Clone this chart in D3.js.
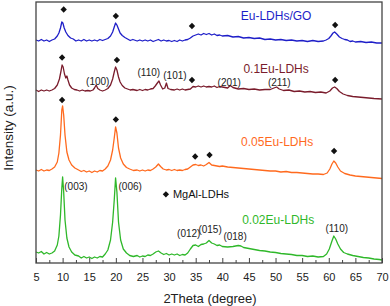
<!DOCTYPE html>
<html><head><meta charset="utf-8">
<script src="https://cdn.jsdelivr.net/npm/d3@7"></script>
<style>html,body{margin:0;padding:0;background:#fff;}svg{display:block;font-family:"Liberation Sans",Arial,sans-serif;}</style>
</head><body><svg id="c" width="390" height="306"></svg>
<script>
// ---- data: [2Theta, intensity (a.u., stacked offsets)] ----
const seriesNames = ["Eu-LDHs/GO", "0.1Eu-LDHs", "0.05Eu-LDHs", "0.02Eu-LDHs"];
const seriesColors = ["#1e1ec8", "#7a1c2c", "#ff6a1e", "#2fb82a"];

const euGO = [[5,223],[5.5,222],[6,223.5],[6.5,222],[7,223],[7.5,221.5],[8,223],[8.5,224],[9,227],[9.3,230],[9.6,235],[9.85,241],[10.05,240],[10.3,235],[10.6,231],[11,227.5],[11.5,225],[12,224],[12.5,222],[13,223],[13.5,222],[14,223.5],[14.5,222],[15,223],[15.5,222],[16,223],[16.5,222],[17,223.5],[17.5,222.5],[18,223.5],[18.5,224.5],[19,227],[19.4,231],[19.7,236],[19.95,240],[20.2,238],[20.5,234],[20.8,230],[21.2,227.5],[21.7,225.5],[22.2,224],[22.7,222.5],[23.2,223.5],[24,222],[24.5,223],[25,222],[25.5,223],[26,222],[26.5,223],[27,221.5],[27.5,222.5],[28,223.5],[28.5,222],[29,223],[29.5,222],[30,222.5],[30.5,221.5],[31,222.5],[31.5,221.5],[32,223],[32.5,222],[33,223],[33.5,223.5],[34,225],[34.5,227],[35,228],[35.5,229],[36,228],[36.5,229.5],[37,228.5],[37.5,229.5],[38,228],[38.5,229],[39,227.5],[39.5,228],[40,227],[41,227.5],[42,226],[43,226.5],[44,225],[45,225.5],[46,224.5],[47,225],[48,223.5],[49,224],[50,223],[51,223.5],[52,222.5],[53,223],[54,222],[55,222.5],[56,221.5],[57,222.5],[58,221.5],[59,222],[59.5,223],[60,224.5],[60.4,227],[60.8,230],[61.1,231],[61.5,229],[62,226],[62.5,224.5],[63,223.5],[63.5,223],[64,221.5],[64.5,222],[65,221],[66,221.5],[67,220.5],[68,221],[69,220],[70,220]];

const eu01 = [[5,173],[5.5,171.5],[6,173],[6.5,172],[7,173],[7.5,172],[8,173],[8.5,174.5],[9,178],[9.4,184],[9.7,192],[9.9,198],[10.1,196],[10.35,189],[10.6,185],[10.8,187],[11,183],[11.3,178],[11.7,175],[12.2,173.5],[12.7,173],[13.2,172],[13.7,173],[14.2,172],[14.7,172.5],[15.2,172],[15.7,173],[16,175],[16.3,178],[16.6,174.5],[17,173],[17.5,172],[18,173],[18.5,174.5],[19,178],[19.4,184],[19.7,191],[19.95,196],[20.2,193],[20.5,186],[20.8,181],[21.2,177.5],[21.7,175],[22.2,174],[22.7,173],[23.2,173.5],[24,172.5],[24.5,173.5],[25,172.5],[25.5,173.5],[26,173],[26.5,174],[27,174.5],[27.4,177],[27.8,180],[28.1,182],[28.4,178],[28.8,174],[29.2,175],[29.5,180],[29.8,174.5],[30.3,173.5],[31,173],[31.5,174],[32,173],[32.5,174],[33,173],[33.5,173.5],[34,174],[34.5,176.5],[35,176],[35.5,177],[36,176],[36.5,177],[37,176],[37.5,176.5],[38,176],[38.5,177],[39,175.5],[39.5,176.5],[40,176],[41,175],[41.5,177.5],[42,175.5],[43,174],[44,174.5],[45,173.5],[46,174],[47,173],[48,173.5],[49,173.5],[49.7,175],[50.2,176],[50.7,174],[51.5,172.5],[52.5,173],[53.5,171.5],[54.5,172],[55.5,171],[56.5,171.5],[57.5,170.5],[58.5,171],[59.5,170],[60.2,172],[60.7,175],[61.1,176],[61.5,174.5],[62,171.5],[62.7,169],[63.5,167.5],[64.5,166.5],[65.5,166],[66.5,165.5],[67.5,165],[68.5,164.5],[70,164]];

const eu005 = [[5,93],[5.5,92],[6,93.5],[6.5,92],[7,93],[7.5,92.5],[8,94],[8.5,96],[9,101],[9.3,110],[9.6,128],[9.85,153],[10,157],[10.2,148],[10.45,128],[10.8,111],[11.2,103],[11.7,98],[12.3,95],[13,93],[13.5,91.5],[14,92.5],[14.5,91],[15,92],[15.5,90.5],[16,92],[16.5,91],[17,92.5],[17.5,92],[18,94],[18.5,97],[19,103],[19.4,113],[19.7,125],[19.95,136],[20.2,130],[20.5,115],[20.9,105],[21.4,99],[22,95.5],[22.6,94],[23.3,92.5],[24,93],[24.5,92],[25,93],[25.5,92],[26,93],[26.5,92.5],[27,94],[27.5,96],[28,99],[28.4,96.5],[28.9,94],[29.5,93],[30,93.5],[30.5,92.5],[31,93.5],[31.5,92.5],[32,93],[32.5,92.5],[33,93.5],[33.5,94],[34,96],[34.5,98],[35,98.5],[35.5,97.5],[36,98],[36.5,97],[37,98.5],[37.5,100.5],[38,98],[38.5,97.5],[39,97],[39.5,96.5],[40,97],[41,96],[42,95.5],[43,95],[44,94.5],[45,94],[46,93.5],[47,93],[48,92.5],[49,92],[50,92],[51,91],[52,91.5],[53,90.5],[54,90.5],[55,90],[56,89.5],[57,89],[58,89],[59,88.5],[59.7,90],[60.2,94],[60.6,99],[60.95,102],[61.3,100],[61.7,96],[62.2,92],[63,89.5],[64,88],[65,87],[66,86.5],[67,86],[68,85.5],[69,85],[70,84.5]];

const eu002 = [[5,11],[5.5,10],[6,11.5],[6.5,9],[7,10.5],[7.5,9],[8,10],[8.5,12],[9,18],[9.3,27],[9.6,48],[9.85,75],[10,86],[10.2,71],[10.45,43],[10.8,25],[11.2,16],[11.7,11],[12.3,8],[13,7],[13.5,5],[14,6.5],[14.5,5],[15,6],[15.5,4.5],[16,6],[16.5,5],[17,6.5],[17.5,6],[18,9],[18.5,13],[19,23],[19.4,41],[19.7,63],[19.95,85],[20.2,71],[20.5,41],[20.9,23],[21.4,14],[22,10],[22.6,7.5],[23.3,6.5],[24,7.5],[24.5,6],[25,7],[25.5,6.5],[26,8],[26.5,7.5],[27,9],[27.5,11],[28,12],[28.5,10],[29,8.5],[29.5,9.5],[30,8],[30.5,9],[31,8],[31.5,9],[32,7.5],[32.5,8.5],[33,8],[33.5,10],[34,14],[34.5,17.5],[35,18],[35.5,16.5],[36,18.5],[36.5,19],[37,20],[37.5,22.5],[38,20],[38.5,19],[39,17.5],[39.5,18],[40,16.5],[41,16],[42,16.5],[43,17.5],[43.5,17],[44,15.5],[45,14.5],[46,13.5],[47,12.5],[48,12],[49,11],[50,10.5],[51,9.5],[52,9],[53,8.5],[54,7.5],[55,7.5],[56,6.5],[57,7],[58,6],[59,6.5],[59.6,9],[60.1,14],[60.6,22],[60.95,27],[61.3,24],[61.7,19],[62.2,14],[62.8,10.5],[63.5,9],[64.5,7.5],[65.5,6.5],[66.5,5.5],[67.5,5],[68.5,4],[69.5,3.5],[70,3]];

const seriesData = [euGO, eu01, eu005, eu002];

// MgAl-LDHs diamond markers [2Theta, a.u.]
const diamonds = [[10.2,253.5],[20,247],[34.3,237],[61.2,238],
  [9.9,205.5],[20.2,203],[34.3,183],[61.2,183],
  [9.9,163],[20,143.5],[34.9,106.5],[37.6,108],[61,112]];

// series labels [text, 2Theta, a.u.]
const seriesLabelPos = [[50.1,243.5],[50.1,190.5],[50.3,117.5],[50.5,39.5]];

// reflection labels [text, 2Theta, a.u.]
const hklLabels = [["(100)",16.6,178.5],["(110)",26.2,187.5],["(101)",31.1,184.5],["(201)",41.3,177.5],["(211)",50.7,177.5],
  ["(003)",12.5,73.5],["(006)",22.7,73.5],["(012)",33.7,26.5],["(015)",37.7,30.5],["(018)",42.4,23.5],["(110)",61.5,31.5]];

const legendMark = [29.4, 68.7];
const legendText = "MgAl-LDHs";

const xTicks = d3.range(5, 71, 5);
const xMinor = d3.range(7.5, 70, 5);
const xTitle = "2Theta (degree)";
const yTitle = "Intensity (a.u.)";

// ---- drawing ----
const svg = d3.select("#c");
svg.append("rect").attr("width",390).attr("height",306).attr("fill","#fff");
const x = d3.scaleLinear().domain([5,70]).range([36,382]);
const y = d3.scaleLinear().domain([0,261]).range([263,2]);

const line = d3.line().x(d=>x(d[0])).y(d=>y(d[1]));
seriesData.forEach((s,i)=>{
  svg.append("path").datum(s).attr("d",line).attr("fill","none")
    .attr("stroke",seriesColors[i]).attr("stroke-width",1.3).attr("stroke-linejoin","round");
});

const sym = d3.symbol().type(d3.symbolSquare).size(20);
svg.selectAll(".dm").data(diamonds.concat([legendMark])).join("path")
  .attr("d",sym).attr("fill","#111")
  .attr("transform",d=>`translate(${x(d[0])},${y(d[1])}) rotate(45)`);

svg.append("text").attr("x",x(legendMark[0])+7).attr("y",y(legendMark[1])+4)
  .attr("font-size",11).attr("fill","#111").text(legendText);

svg.selectAll(".sl").data(seriesNames).join("text")
  .attr("x",(d,i)=>x(seriesLabelPos[i][0])).attr("y",(d,i)=>y(seriesLabelPos[i][1]))
  .attr("text-anchor","middle").attr("font-size",12).attr("fill",(d,i)=>seriesColors[i]).text(d=>d);

svg.selectAll(".hl").data(hklLabels).join("text")
  .attr("x",d=>x(d[1])).attr("y",d=>y(d[2]))
  .attr("text-anchor","middle").attr("font-size",10).attr("fill","#222").text(d=>d[0]);

// axes
const gx = svg.append("g").attr("transform","translate(0,263)")
  .call(d3.axisBottom(x).tickValues(xTicks).tickSizeInner(-5).tickSizeOuter(0).tickPadding(10).tickFormat(d3.format("d")));
gx.select(".domain").remove();
gx.selectAll("line").attr("stroke","#444");
gx.selectAll("text").attr("font-size",11).attr("fill","#222").attr("font-family","Liberation Sans, Arial, sans-serif");
const gm = svg.append("g").attr("transform","translate(0,263)")
  .call(d3.axisBottom(x).tickValues(xMinor).tickSizeInner(-3).tickSizeOuter(0).tickFormat(""));
gm.select(".domain").remove();
gm.selectAll("line").attr("stroke","#444");

svg.append("rect").attr("x",36).attr("y",2).attr("width",346).attr("height",261)
  .attr("fill","none").attr("stroke","#444").attr("stroke-width",1.3);

svg.append("text").attr("x",210).attr("y",302.5).attr("text-anchor","middle")
  .attr("font-size",13).attr("fill","#222").text(xTitle);
svg.append("text").attr("transform","translate(13,128) rotate(-90)").attr("text-anchor","middle")
  .attr("font-size",13.5).attr("fill","#222").text(yTitle);
</script></body></html>
